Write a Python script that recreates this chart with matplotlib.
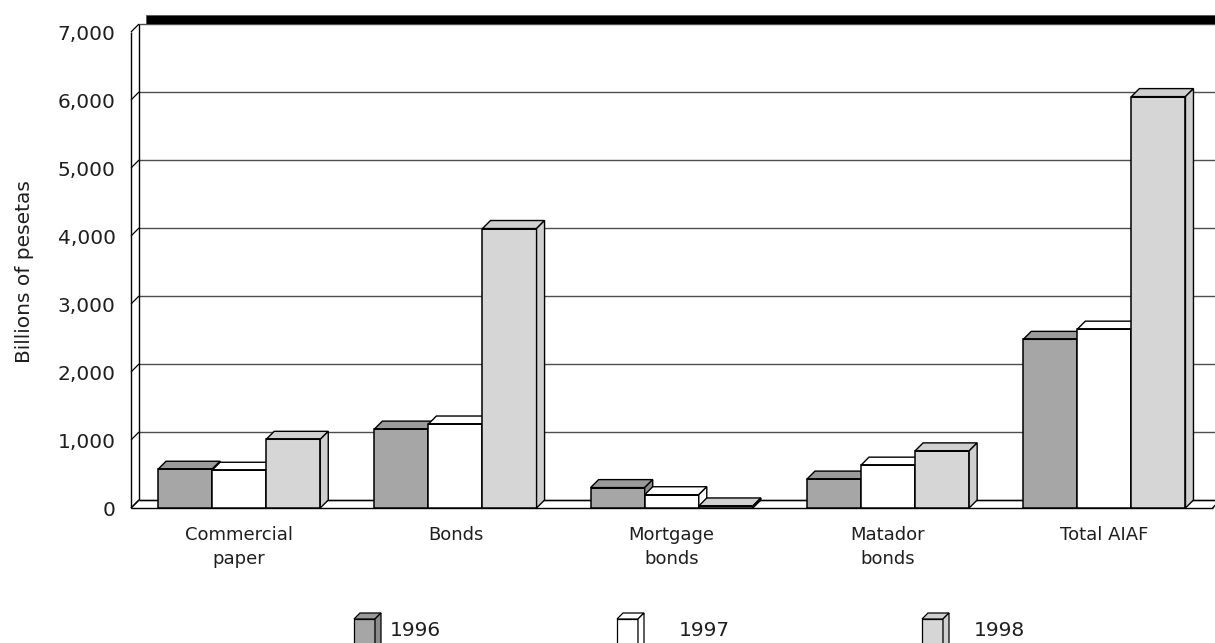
import matplotlib
matplotlib.use("Agg")
import matplotlib.pyplot as plt
from matplotlib.patches import Polygon

# Data (billions of pesetas)
categories = ["Commercial\npaper", "Bonds", "Mortgage\nbonds", "Matador\nbonds", "Total AIAF"]
years = ["1996", "1997", "1998"]
values_1996 = [570, 1160, 300, 425, 2480]
values_1997 = [555, 1235, 195, 630, 2630]
values_1998 = [1010, 4110, 30, 840, 6050]
y_ticks = [0, 1000, 2000, 3000, 4000, 5000, 6000, 7000]

series = [values_1996, values_1997, values_1998]
face_colors = ["#a6a6a6", "#ffffff", "#d6d6d6"]
top_colors = ["#9a9a9a", "#ffffff", "#d0d0d0"]
side_colors = ["#8c8c8c", "#ffffff", "#cfcfcf"]
text_color = "#1e1e1e"

W, H = 1215, 643
fig = plt.figure(figsize=(W / 100, H / 100), dpi=100)
fig.patch.set_facecolor("white")

# front plane of the plot box in pixels
x0_px, x1_px, y0_px, y1_px = 131, 1212.5, 508, 32
ax = fig.add_axes([x0_px / W, (H - y0_px) / H, (x1_px - x0_px) / W, (y0_px - y1_px) / H])
ax.set_xlim(-0.5, len(categories) - 0.5)
ax.set_ylim(0, 7000)
for s in ax.spines.values():
    s.set_visible(False)
ax.set_facecolor("none")

# depth offset of the pseudo-3D box, converted from pixels to data units
px_x = (x1_px - x0_px) / len(categories)
px_y = (y0_px - y1_px) / 7000
depth_px = 8
dx = depth_px / px_x
dy = depth_px / px_y

xl, xr = -0.5, len(categories) - 0.5
line_kw = dict(clip_on=False, solid_capstyle="butt")

# back wall gridlines and left wall
for v in y_ticks:
    ax.plot([xl + dx, xr + dx + 0.1], [v + dy, v + dy], color="#4d4d4d", lw=1.0, zorder=1, **line_kw)
    ax.plot([xl, xl + dx], [v, v + dy], color="black", lw=0.9, zorder=1, **line_kw)
ax.plot([xl, xl], [0, 7000], color="black", lw=1.0, zorder=1, **line_kw)
ax.plot([xl + dx, xl + dx], [dy, 7000 + dy], color="black", lw=1.0, zorder=1, **line_kw)

# heavy band along the top of the back wall
band_x0 = xl + dx + 7 / px_x
ax.add_patch(Polygon([[band_x0, 7000 + dy], [xr + dx + 0.1, 7000 + dy],
                      [xr + dx + 0.1, 7000 + dy + 9 / px_y], [band_x0, 7000 + dy + 9 / px_y]],
                     closed=True, facecolor="black", edgecolor="#555555", lw=0.6,
                     clip_on=False, zorder=1))

# floor
ax.plot([xl, xr], [0, 0], color="black", lw=1.0, zorder=1.5, **line_kw)
ax.plot([xl + dx, xr + dx + 0.1], [dy, dy], color="black", lw=1.0, zorder=1, **line_kw)
ax.plot([xl, xl + dx], [0, dy], color="black", lw=1.0, zorder=1, **line_kw)
ax.plot([xr, xr + dx], [0, dy], color="black", lw=1.0, zorder=1, **line_kw)

# bars
bar_w = 0.25
offsets = [-bar_w, 0.0, bar_w]
for j, vals in enumerate(series):
    for i, v in enumerate(vals):
        z = 3 + i * 1 + j * 0.1
        xc = i + offsets[j]
        a, b = xc - bar_w / 2, xc + bar_w / 2
        ax.bar(xc, v, width=bar_w, color=face_colors[j], edgecolor="black",
               linewidth=1.1, zorder=z, clip_on=False)
        ax.add_patch(Polygon([[a, v], [b, v], [b + dx, v + dy], [a + dx, v + dy]], closed=True,
                             facecolor=top_colors[j], edgecolor="black", lw=1.0,
                             zorder=z, clip_on=False, joinstyle="miter"))
        ax.add_patch(Polygon([[b, 0], [b, v], [b + dx, v + dy], [b + dx, dy]], closed=True,
                             facecolor=side_colors[j], edgecolor="black", lw=1.0,
                             zorder=z, clip_on=False, joinstyle="miter"))
        # redraw front edge so it sits above the top/side faces
        ax.plot([a, b], [v, v], color="black", lw=1.3, zorder=z + 0.01, **line_kw)

# axes text
ax.set_yticks(y_ticks)
ax.set_yticklabels([f"{v:,}" for v in y_ticks])
ax.set_xticks(range(len(categories)))
ax.set_xticklabels(categories, linespacing=1.4)
ax.tick_params(axis="y", length=0, pad=11, labelsize=14.5, colors=text_color)
ax.tick_params(axis="x", length=0, pad=13, labelsize=13, colors=text_color)
fig.text(25 / W, 1 - 272 / H, "Billions of pesetas", rotation=90, ha="center", va="center",
         fontsize=14.5, color=text_color)

# legend with small 3D boxes
def fx(px):
    return px / W

def fy(py):
    return 1 - py / H

legend_x = [354, 617, 922]
text_x = [390, 679, 974]
box_w, box_top, box_bot, d = 21, 619, 650, 6
for j, lab in enumerate(years):
    lx = legend_x[j]
    front = [[fx(lx), fy(box_bot)], [fx(lx + box_w), fy(box_bot)],
             [fx(lx + box_w), fy(box_top)], [fx(lx), fy(box_top)]]
    top = [[fx(lx), fy(box_top)], [fx(lx + box_w), fy(box_top)],
           [fx(lx + box_w + d), fy(box_top - d)], [fx(lx + d), fy(box_top - d)]]
    side = [[fx(lx + box_w), fy(box_bot)], [fx(lx + box_w), fy(box_top)],
            [fx(lx + box_w + d), fy(box_top - d)], [fx(lx + box_w + d), fy(box_bot - d)]]
    for poly, fc in ((front, face_colors[j]), (top, top_colors[j]), (side, side_colors[j])):
        fig.add_artist(Polygon(poly, closed=True, transform=fig.transFigure,
                               facecolor=fc, edgecolor="black", lw=0.9))
    fig.text(fx(text_x[j]), fy(630), lab, ha="left", va="center", fontsize=14.5, color=text_color)

fig.savefig("out.png", dpi=100, facecolor="white")
